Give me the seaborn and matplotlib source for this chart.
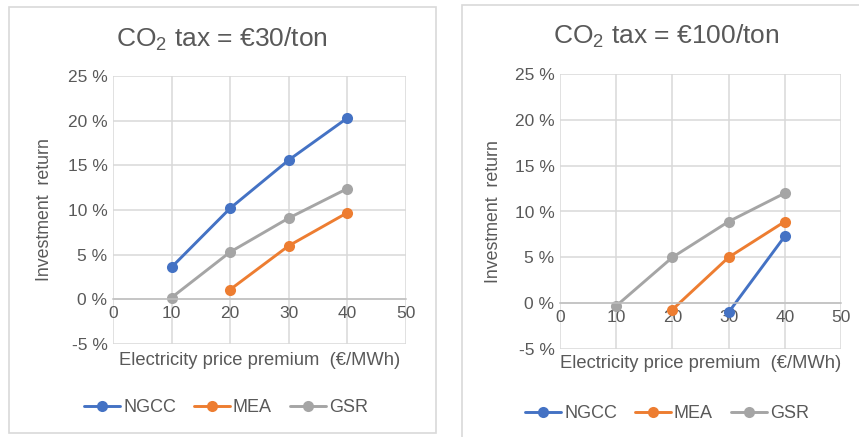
import numpy as np
import pandas as pd
import seaborn as sns
import matplotlib.pyplot as plt
from matplotlib.patches import Rectangle

premium = [10, 20, 30, 40]
series = ['NGCC', 'MEA', 'GSR']
colors = ['#4472C4', '#ED7D31', '#A5A5A5']

# investment return (%) at CO2 tax = 30 €/ton
ngcc_30 = [3.6, 10.2, 15.6, 20.3]
mea_30 = [np.nan, 1.1, 6.0, 9.7]
gsr_30 = [0.2, 5.3, 9.1, 12.4]

# investment return (%) at CO2 tax = 100 €/ton
ngcc_100 = [np.nan, np.nan, -1.0, 7.3]
mea_100 = [np.nan, -0.7, 5.0, 8.9]
gsr_100 = [-0.3, 5.0, 8.9, 12.0]

titles = [r'CO$_\mathrm{2}$ tax = €30/ton', r'CO$_\mathrm{2}$ tax = €100/ton']
xticks = [0, 10, 20, 30, 40, 50]
yticks = [-5, 0, 5, 10, 15, 20, 25]
yticklabels = ['-5 %', '0 %', '5 %', '10 %', '15 %', '20 %', '25 %']


def to_frame(vals):
    rows = []
    for name, v in zip(series, vals):
        for x, y in zip(premium, v):
            if not np.isnan(y):
                rows.append({'premium': x, 'ret': y, 'tech': name})
    return pd.DataFrame(rows)


df30 = to_frame([ngcc_30, mea_30, gsr_30])
df100 = to_frame([ngcc_100, mea_100, gsr_100])

sns.set_theme(style="white")
plt.rcParams['font.family'] = ['Liberation Sans', 'DejaVu Sans']
plt.rcParams['mathtext.fontset'] = 'custom'
plt.rcParams['mathtext.rm'] = 'Liberation Sans'
plt.rcParams['mathtext.it'] = 'Liberation Sans:italic'
txt = '#595959'
grid = '#d9d9d9'

W, H = 859, 437
fig = plt.figure(figsize=(W / 100, H / 100), dpi=100)
fig.patch.set_facecolor('white')

# panel frames (pixel boxes: x0, y0, x1, y1 from top-left)
for x0, y0, x1, y1 in [(9, 7, 436, 433), (462, 5, 862, 442)]:
    fig.patches.append(Rectangle((x0 / W, 1 - y1 / H), (x1 - x0) / W, (y1 - y0) / H,
                                 transform=fig.transFigure, fill=False,
                                 edgecolor=grid, lw=1.2))

boxes = [(113, 76, 406, 344), (560, 74, 841, 349)]
title_pos = [(222, 39), (666, 36)]
legend_pos = [(226, 408), (667, 414)]
xlabel_y = [-0.03, -0.022]

for i, (df, box) in enumerate(zip([df30, df100], boxes)):
    x0, y0, x1, y1 = box
    ax = fig.add_axes([x0 / W, 1 - y1 / H, (x1 - x0) / W, (y1 - y0) / H])
    sns.lineplot(data=df, x='premium', y='ret', hue='tech', hue_order=series,
                 palette=colors, marker='o', markersize=8, markeredgewidth=0,
                 linewidth=2.1, ax=ax, legend=True)
    ax.set_xlim(0, 50)
    ax.set_ylim(-5, 25)
    ax.set_xticks(xticks)
    ax.set_yticks(yticks)
    ax.set_yticklabels(yticklabels)
    ax.grid(True, color=grid, lw=1.1)
    ax.set_axisbelow(True)
    for s in ['top', 'right', 'left']:
        ax.spines[s].set_visible(False)
    ax.spines['bottom'].set_position(('data', 0))
    ax.spines['bottom'].set_color('#bfbfbf')
    ax.spines['bottom'].set_linewidth(1.1)
    ax.tick_params(length=0, labelsize=12.5, colors=txt, pad=4)
    ax.tick_params(axis='x', pad=5)
    ax.set_xlabel('Electricity price premium  (€/MWh)', fontsize=13.2, color=txt)
    ax.xaxis.set_label_coords(0.5, xlabel_y[i])
    ax.set_ylabel('Investment  return', fontsize=12.8, color=txt)
    ax.yaxis.set_label_coords(-0.205, 0.5)

    handles, labels = ax.get_legend_handles_labels()
    ax.get_legend().remove()
    lx, ly = legend_pos[i]
    fig.legend(handles, labels, loc='center', bbox_to_anchor=(lx / W, 1 - ly / H),
               ncol=3, frameon=False, fontsize=13, labelcolor=txt,
               handlelength=2.0, handletextpad=0.15, columnspacing=1.0)

    tx, ty = title_pos[i]
    fig.text(tx / W, 1 - ty / H, titles[i], ha='center', va='center',
             fontsize=19, color=txt)

fig.savefig('out.png', dpi=100, facecolor='white')
